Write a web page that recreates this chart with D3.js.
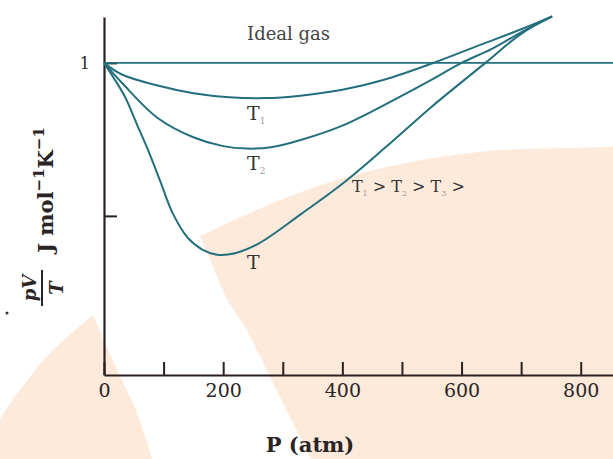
<!DOCTYPE html>
<html>
<head>
<meta charset="utf-8">
<script src="https://cdn.jsdelivr.net/npm/d3@7"></script>
<style>
  body { margin: 0; background: #fff; }
  text { font-family: "DejaVu Serif", serif; }
</style>
</head>
<body>
<div id="chart"></div>
<script>

// [P (atm), pV/T (relative)]
const idealGas = [[0, 1], [855, 1]];
const seriesT1 = [[0, 1], [30, 0.962], [90, 0.926], [150, 0.901], [210, 0.888], [270, 0.885],
  [330, 0.893], [400, 0.912], [470, 0.945], [550, 0.998], [630, 1.058], [700, 1.11], [752, 1.152]];
const seriesT2 = [[0, 1], [30, 0.935], [90, 0.82], [150, 0.757], [200, 0.728], [240, 0.72],
  [280, 0.724], [330, 0.748], [400, 0.795], [470, 0.862], [550, 0.945], [600, 1.0], [650, 1.045],
  [700, 1.1], [752, 1.152]];
const seriesT3 = [[0, 1], [15, 0.955], [35, 0.89], [55, 0.8], [75, 0.71], [95, 0.61], [115, 0.51],
  [140, 0.43], [165, 0.39], [190, 0.373], [220, 0.378], [260, 0.41], [330, 0.505], [400, 0.605],
  [470, 0.72], [550, 0.857], [640, 1.0], [700, 1.095], [752, 1.152]];

const xTicks = [0, 100, 200, 300, 400, 500, 600, 700, 800];
const xTickLabels = ["0", "", "200", "", "400", "", "600", "", "800"];
const yTicks = [0.5, 1];
const yTickLabels = ["", "1"];

const width = 613, height = 459;
const lineColor = "#236f7e";
const axisColor = "#2a2020";
const peach = "#fdeadb";

const svg = d3.select("#chart").append("svg")
  .attr("width", width)
  .attr("height", height);

// faint watermark shapes behind the chart
svg.append("path")
  .attr("fill", peach)
  .attr("d", "M200,236 C250,212 300,190 347,177 C400,162 460,152 520,149 L613,147 L613,459 L311,459 L280,397 L247,330 L227,300 Z");
svg.append("path")
  .attr("fill", peach)
  .attr("d", "M93,315 C75,330 50,350 33,373 C20,390 8,405 0,420 L0,459 L152,459 C145,435 138,415 133,403 C122,380 112,360 93,315 Z");

// scales
const xScale = d3.scaleLinear().domain([0, 855]).range([104, 613.5]);
const yScale = d3.scaleLinear().domain([-0.02, 1.15]).range([375, 17]);

// axes
const xAxis = d3.axisBottom(xScale)
  .tickValues(xTicks)
  .tickSizeInner(-13)
  .tickSizeOuter(0)
  .tickPadding(9)
  .tickFormat((d, i) => xTickLabels[i]);

const gx = svg.append("g")
  .attr("transform", `translate(0, ${yScale.range()[0]})`)
  .call(xAxis);
gx.select(".domain").attr("stroke", axisColor).attr("stroke-width", 2.2);
gx.selectAll(".tick line").attr("stroke", axisColor).attr("stroke-width", 2);
gx.selectAll(".tick text")
  .attr("fill", "#2b2424")
  .attr("font-size", "19px")
  .attr("font-family", "DejaVu Serif, serif");

const yAxis = d3.axisLeft(yScale)
  .tickValues(yTicks)
  .tickSizeInner(-13)
  .tickSizeOuter(0)
  .tickPadding(14)
  .tickFormat((d, i) => yTickLabels[i]);

const gy = svg.append("g")
  .attr("transform", `translate(${xScale(0)}, 0)`)
  .call(yAxis);
gy.select(".domain").attr("stroke", axisColor).attr("stroke-width", 2.2);
gy.selectAll(".tick line").attr("stroke", axisColor).attr("stroke-width", 2);
gy.selectAll(".tick text")
  .attr("fill", "#2b2424")
  .attr("font-size", "16px")
  .attr("font-family", "DejaVu Serif, serif");

// curves
const lineGen = d3.line()
  .x(d => xScale(d[0]))
  .y(d => yScale(d[1]))
  .curve(d3.curveCatmullRom.alpha(0.5));

svg.append("path")
  .datum(idealGas)
  .attr("fill", "none")
  .attr("stroke", lineColor)
  .attr("stroke-width", 1.8)
  .attr("d", lineGen);

[seriesT1, seriesT2, seriesT3].forEach(s => {
  svg.append("path")
    .datum(s)
    .attr("fill", "none")
    .attr("stroke", lineColor)
    .attr("stroke-width", 2)
    .attr("d", lineGen);
});

// annotations
function tLabel(x, y, sub, size) {
  const t = svg.append("text")
    .attr("x", x)
    .attr("y", y)
    .attr("font-size", size + "px")
    .attr("fill", "#333");
  t.append("tspan").text("T");
  if (sub) {
    t.append("tspan")
      .attr("font-size", "9px")
      .attr("fill", "#999")
      .attr("dy", 4)
      .text(sub);
  }
  return t;
}

svg.append("text")
  .attr("x", xScale(240))
  .attr("y", yScale(1.074))
  .attr("font-size", "18px")
  .attr("fill", "#444")
  .text("Ideal gas");

tLabel(xScale(240), yScale(0.812), "1", 19);
tLabel(xScale(240), yScale(0.649), "2", 19);
tLabel(xScale(240), yScale(0.328), "", 19);

const leg = svg.append("text")
  .attr("x", xScale(416))
  .attr("y", yScale(0.577))
  .attr("font-size", "16px")
  .attr("fill", "#333");
["1", "2", "3"].forEach(s => {
  leg.append("tspan").attr("dy", 0).text("T");
  leg.append("tspan").attr("font-size", "8px").attr("fill", "#999").attr("dy", 4).text(s);
  leg.append("tspan").attr("dy", -4).text(" > ");
});

// axis titles
svg.append("text")
  .attr("x", 310)
  .attr("y", 452)
  .attr("text-anchor", "middle")
  .attr("font-size", "21px")
  .attr("font-weight", "bold")
  .attr("fill", "#2b2424")
  .text("P (atm)");

const frac = svg.append("g")
  .attr("transform", "translate(45, 288) rotate(-90)");
frac.append("text")
  .attr("x", 0).attr("y", -9)
  .attr("text-anchor", "middle")
  .attr("font-size", "18px")
  .attr("font-weight", "bold")
  .attr("font-style", "italic")
  .attr("fill", "#2b2424")
  .text("pV");
frac.append("line")
  .attr("x1", -18).attr("x2", 18)
  .attr("y1", -3).attr("y2", -3)
  .attr("stroke", "#2b2424")
  .attr("stroke-width", 2);
frac.append("text")
  .attr("x", 0).attr("y", 18)
  .attr("text-anchor", "middle")
  .attr("font-size", "18px")
  .attr("font-weight", "bold")
  .attr("font-style", "italic")
  .attr("fill", "#2b2424")
  .text("T");

const unit = svg.append("g")
  .attr("transform", "translate(53, 190) rotate(-90)")
  .append("text")
  .attr("x", 0).attr("y", 0)
  .attr("text-anchor", "middle")
  .attr("font-size", "21px")
  .attr("font-weight", "bold")
  .attr("fill", "#2b2424");
unit.append("tspan").text("J mol");
unit.append("tspan").attr("font-size", "15px").attr("dy", -9).text("\u22121");
unit.append("tspan").attr("dy", 9).text("K");
unit.append("tspan").attr("font-size", "15px").attr("dy", -9).text("\u22121");

svg.append("circle")
  .attr("cx", 7).attr("cy", 313).attr("r", 1.5)
  .attr("fill", "#333");
</script>
</body>
</html>
